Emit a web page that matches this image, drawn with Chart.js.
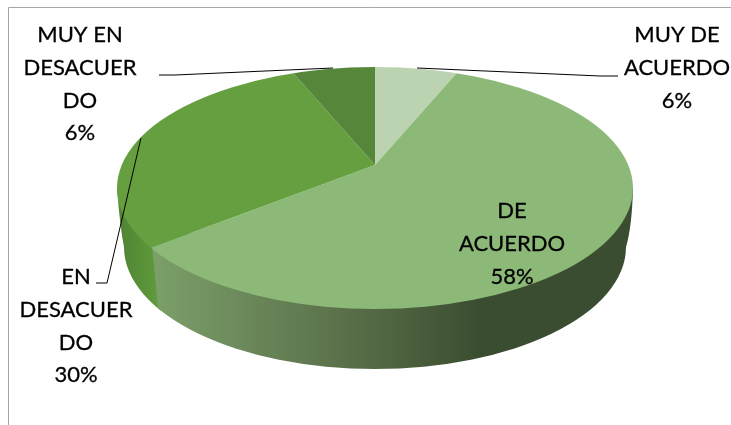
<!DOCTYPE html>
<html>
<head>
<meta charset="utf-8">
<style>
  html, body { margin: 0; padding: 0; background: #fff; }
  canvas { display: block; }
</style>
<script src="https://cdn.jsdelivr.net/npm/chart.js@4"></script>
</head>
<body>
<canvas id="myChart" width="731" height="425"></canvas>
<script>
const categories = ['MUY DE ACUERDO', 'DE ACUERDO', 'EN DESACUERDO', 'MUY EN DESACUERDO'];
const values = [6, 58, 30, 6];
const labelLines = [['MUY DE', 'ACUERDO'], ['DE', 'ACUERDO'], ['EN', 'DESACUER', 'DO'], ['MUY EN', 'DESACUER', 'DO']];
const sliceColors = ['#BBD3B1', '#8CB978', '#659F40', '#55863A'];

// where the label blocks and leader lines sit
const labelAnchors = [[677, 35], [512, 211], [76, 277], [80, 35]];
const leaders = [
  [[417, 68], [600, 76], [618, 76]],
  [],
  [[141, 138], [107, 283], [96, 283]],
  [[333, 68], [175, 75], [159, 75]]
];

// 3D look: top face, bottom face, pie apex is off centre like Excel's perspective
const top3d = { cx: 375, cy: 188, rx: 258, ry: 121 };
const bottom3d = { cx: 375, cy: 247, rx: 251, ry: 122 };
const apex = { x: 375, y: 165 };
const scaleX = 1.65, scaleY = 0.735;

function rimX(share) {
  // where the slice boundary at this share of the total meets the top ellipse
  const a = share * 2 * Math.PI;
  const dx = Math.sin(a) * scaleX, dy = -Math.cos(a) * scaleY;
  const px = (apex.x - top3d.cx) / top3d.rx, py = (apex.y - top3d.cy) / top3d.ry;
  const qx = dx / top3d.rx, qy = dy / top3d.ry;
  const A = qx * qx + qy * qy, B = 2 * (px * qx + py * qy), C = px * px + py * py - 1;
  const t = (-B + Math.sqrt(B * B - 4 * A * C)) / (2 * A);
  return apex.x + dx * t;
}

const pie3d = {
  id: 'pie3d',
  beforeDatasetsDraw(chart) {
    const ctx = chart.ctx;
    const arc = chart.getDatasetMeta(0).data[0];
    const total = values.reduce((a, b) => a + b, 0);
    const split = rimX((values[0] + values[1]) / total);

    // frame, only top and left are visible
    ctx.save();
    ctx.strokeStyle = '#A6A6A6';
    ctx.lineWidth = 1;
    ctx.beginPath();
    ctx.moveTo(8.5, 425);
    ctx.lineTo(8.5, 7.5);
    ctx.lineTo(731, 7.5);
    ctx.stroke();
    ctx.restore();

    // side wall
    ctx.save();
    ctx.beginPath();
    ctx.moveTo(top3d.cx - top3d.rx, top3d.cy);
    ctx.quadraticCurveTo(top3d.cx - top3d.rx + 3, bottom3d.cy - 20, bottom3d.cx - bottom3d.rx, bottom3d.cy);
    ctx.ellipse(bottom3d.cx, bottom3d.cy, bottom3d.rx, bottom3d.ry, 0, Math.PI, 0, true);
    ctx.quadraticCurveTo(top3d.cx + top3d.rx - 1, bottom3d.cy - 20, top3d.cx + top3d.rx, top3d.cy);
    ctx.closePath();
    ctx.clip();

    const g1 = ctx.createLinearGradient(117, 0, split + 6, 0);
    g1.addColorStop(0, '#4F8234');
    g1.addColorStop(1, '#5F9A3B');
    ctx.fillStyle = g1;
    ctx.fillRect(100, 150, split - 100 + 10, 240);

    const g2 = ctx.createLinearGradient(split, 0, 480, 0);
    g2.addColorStop(0, '#7CA06A');
    g2.addColorStop(0.55, '#5C734C');
    g2.addColorStop(1, '#3B4D30');
    ctx.fillStyle = g2;
    ctx.beginPath();
    ctx.moveTo(split + 7, 380);
    ctx.lineTo(split + 7, 304);
    ctx.lineTo(split + 1, 240);
    ctx.lineTo(650, 150);
    ctx.lineTo(650, 380);
    ctx.closePath();
    ctx.fill();
    ctx.restore();

    // top face: the pie arcs squashed onto the apex, cut to the ellipse
    ctx.save();
    ctx.beginPath();
    ctx.ellipse(top3d.cx, top3d.cy, top3d.rx, top3d.ry, 0, 0, 2 * Math.PI);
    ctx.clip();
    ctx.translate(apex.x, apex.y);
    ctx.scale(scaleX, scaleY);
    ctx.translate(-arc.x, -arc.y);
  },
  afterDatasetsDraw(chart) {
    const ctx = chart.ctx;
    ctx.restore();

    const total = values.reduce((a, b) => a + b, 0);
    ctx.save();
    ctx.strokeStyle = '#000';
    ctx.lineWidth = 1;
    leaders.forEach(pts => {
      if (!pts.length) return;
      ctx.beginPath();
      pts.forEach((p, i) => i ? ctx.lineTo(p[0], p[1]) : ctx.moveTo(p[0], p[1]));
      ctx.stroke();
    });

    ctx.fillStyle = '#000';
    ctx.strokeStyle = '#000';
    ctx.lineWidth = 0.3;
    ctx.font = '22px Lato';
    ctx.textAlign = 'center';
    ctx.textBaseline = 'middle';
    labelLines.forEach((lines, i) => {
      const pct = Math.round(values[i] / total * 100) + '%';
      lines.concat(pct).forEach((t, j) => {
        const y = labelAnchors[i][1] + j * 32.8;
        ctx.fillText(t, labelAnchors[i][0], y);
        ctx.strokeText(t, labelAnchors[i][0], y);
      });
    });
    ctx.restore();
  }
};

const data = {
  labels: categories,
  datasets: [{
    data: values,
    backgroundColor: sliceColors,
    borderWidth: 0,
  }]
};

const config = {
  type: 'pie',
  data: data,
  options: {
    responsive: false,
    animation: false,
    radius: 200,
    events: [],
    plugins: {
      legend: { display: false },
      title: { display: false },
      tooltip: { enabled: false }
    }
  },
  plugins: [pie3d]
};

new Chart(document.getElementById('myChart'), config);
</script>
</body>
</html>
